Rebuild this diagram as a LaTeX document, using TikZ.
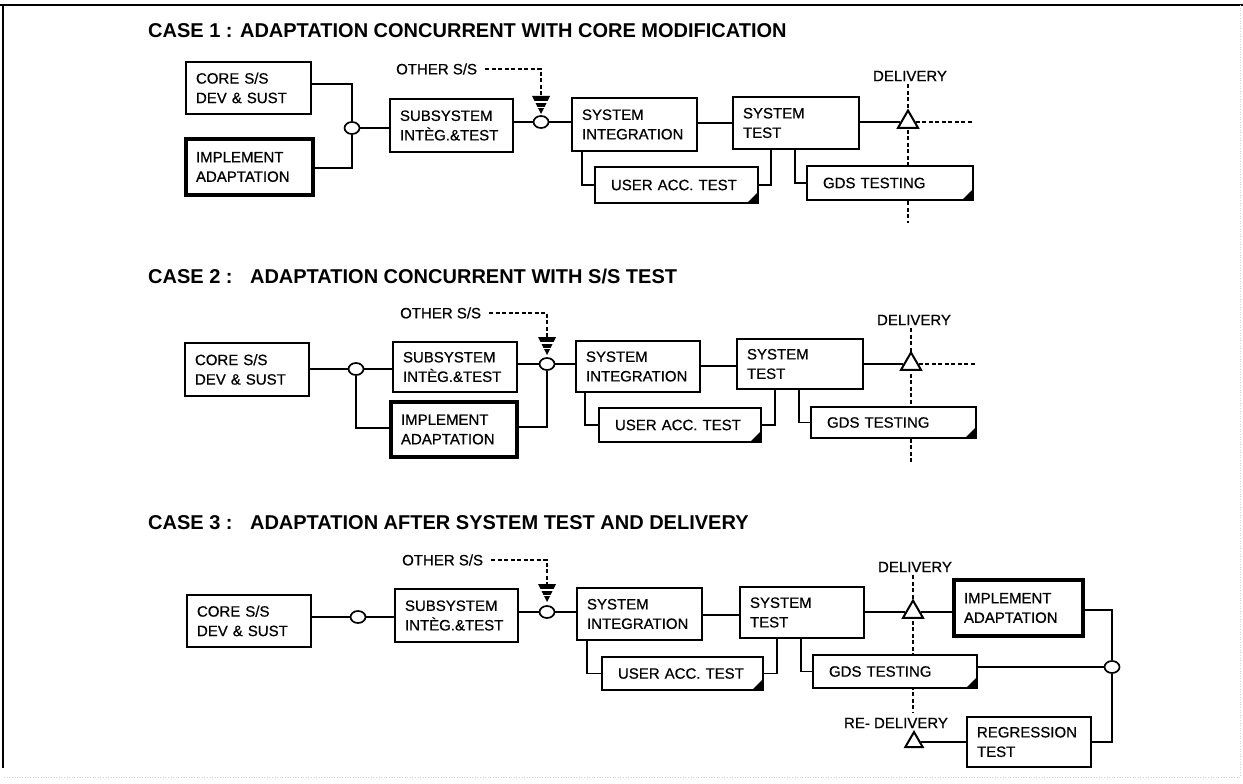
\documentclass[tikz,border=0pt]{standalone}
\usepackage{fontspec}
\setmainfont{Liberation Sans}
\newfontfamily\boxfam[FakeBold=0.6]{Liberation Sans}
\usetikzlibrary{shapes.geometric,calc}
\pgfdeclarelayer{bg}
\pgfsetlayers{bg,main}
\newcommand\bxfont{\boxfam\fontsize{15}{19.5}\selectfont}
\newcommand\lblfont{\boxfam\fontsize{15}{18}\selectfont}
\newcommand\ttlfont{\fontsize{20}{24}\selectfont\bfseries}
\newcommand\bx[7][]{\pgfmathsetlengthmacro\bxw{#5pt-20pt}\node[box,text width=\bxw,minimum height=#6pt,#1] (#2) at (#3,#4) {#7};}
\newcommand\bxs[7][]{\pgfmathsetlengthmacro\bxw{#5pt-32pt}\node[box,inner xsep=16pt,text width=\bxw,minimum height=#6pt,#1] (#2) at (#3,#4) {#7};}
\newcommand\corner[1]{\fill (#1.south east) -- ++(-11,0) -- ++(11,-11) -- cycle;}
\begin{document}
\begin{tikzpicture}[x=1pt,y=-1pt,
  box/.style={draw,line width=1.5pt,fill=white,anchor=north west,align=left,inner xsep=10pt,inner ysep=0pt,outer sep=0pt,font=\bxfont},
  thickbox/.style={line width=4pt},
  junc/.style={ellipse,draw,line width=1.7pt,fill=white,minimum width=15pt,minimum height=12pt,inner sep=0pt},
  deliv/.style={regular polygon,regular polygon sides=3,draw,line width=2pt,fill=white,minimum size=23pt,inner sep=0pt},
  conn/.style={line width=1.4pt},
  dsh/.style={line width=1.6pt,dash pattern=on 4pt off 2.5pt},
  lbl/.style={inner sep=0pt,font=\lblfont},
  ttl/.style={anchor=west,inner sep=0pt,font=\ttlfont},
  chev/.pic={\fill (-9,0) -- (9,0) -- (0,18) -- cycle;
    \draw[white,line width=1.4pt] (-10,6) -- (10,6) (-10,11.5) -- (10,11.5);}
]
\useasboundingbox (0,0) rectangle (1243,784);
\begin{pgfonlayer}{bg}
\fill[white] (0,0) rectangle (1243,784);
\end{pgfonlayer}
% frame
\draw[line width=2.5pt] (0,5) -- (1243,5);
\draw[line width=1.5pt] (3,5) -- (3,768);
\draw[gray!35,line width=0.6pt,dotted] (1240,5) -- (1240,777) -- (3,777);

% ================= CASE 1
\node[ttl] (t1) at (148,31) {CASE 1 : ADAPTATION CONCURRENT WITH CORE MODIFICATION};
\bx{core1}{186}{62}{125}{52}{CORE S/S\\DEV \& SUST}
\bx[thickbox]{impl1}{186}{139}{127}{56}{IMPLEMENT\\ADAPTATION}
\node[junc] (j1a) at (352,128) {};
\bx{sub1}{390}{99}{123}{53}{SUBSYSTEM\\INTÈG.\&TEST}
\node[lbl,anchor=west] (o1) at (396,69) {OTHER S/S};
\coordinate (a1) at (541,96);
\node[junc] (j1b) at (541,122) {};
\bx{si1}{572}{98}{125}{53}{SYSTEM\\INTEGRATION}
\bx{st1}{733}{97}{126}{52}{SYSTEM\\TEST}
\node[deliv] (d1) at (908,122) {};
\node[lbl] (dl1) at (910,76) {DELIVERY};
\coordinate (d1r) at (973,122);
\coordinate (d1b) at (908,223);
\bxs{u1}{595}{167}{163}{36}{USER ACC. TEST}
\bxs{g1}{807}{166}{166}{34}{GDS TESTING}
\corner{u1}\corner{g1}
\draw[conn] (core1.east |- 0,84) -| (j1a);
\draw[conn] (impl1.east |- 0,168) -| (j1a);
\draw[conn] (j1a) -- (sub1.west |- j1a);
\draw[conn] (sub1.east |- j1b) -- (j1b);
\draw[conn] (j1b) -- (si1.west |- j1b);
\draw[conn] (si1.east |- 0,123) -- (st1.west |- 0,123);
\draw[conn] (st1.east |- d1) -- (d1);
\draw[dsh] (d1) -- (d1r);
\draw[conn] (si1.south -| 582,0) |- (u1.west);
\draw[conn] (u1.east) -| (st1.south -| 771,0);
\draw[conn] (st1.south -| 795,0) |- (g1.west);
\draw[dsh] ($(o1.east)+(8,0)$) -| (a1);
\pic at (a1) {chev};
\begin{pgfonlayer}{bg}
\draw[dsh] ($(dl1.south -| d1)+(0,3)$) -- (d1b);
\end{pgfonlayer}

% ================= CASE 2
\node[ttl] (t2) at (148,276) {CASE 2 :\hspace{0.5em} ADAPTATION CONCURRENT WITH S/S TEST};
\bx{core2}{185}{343}{124}{53}{CORE S/S\\DEV \& SUST}
\node[junc] (j2a) at (356,369) {};
\bx{sub2}{393}{342}{124}{50}{SUBSYSTEM\\INTÈG.\&TEST}
\bx[thickbox]{impl2}{391}{402}{126}{55}{IMPLEMENT\\ADAPTATION}
\node[lbl,anchor=west] (o2) at (400,313) {OTHER S/S};
\coordinate (a2) at (547,337);
\node[junc] (j2b) at (547,364) {};
\bx{si2}{576}{341}{124}{51}{SYSTEM\\INTEGRATION}
\bx{st2}{737}{339}{126}{50}{SYSTEM\\TEST}
\node[deliv] (d2) at (911,364) {};
\node[lbl] (dl2) at (914,320) {DELIVERY};
\coordinate (d2r) at (975,364);
\coordinate (d2b) at (911,463);
\bxs{u2}{599}{408}{162}{34}{USER ACC. TEST}
\bxs{g2}{811}{407}{165}{31}{GDS TESTING}
\corner{u2}\corner{g2}
\draw[conn] (core2.east |- j2a) -- (j2a);
\draw[conn] (j2a) -- (sub2.west |- j2a);
\draw[conn] (j2a) |- (impl2.west |- 0,428);
\draw[conn] (sub2.east |- j2b) -- (j2b);
\draw[conn] (impl2.east |- 0,427) -| (j2b);
\draw[conn] (j2b) -- (si2.west |- j2b);
\draw[conn] (si2.east |- 0,366) -- (st2.west |- 0,366);
\draw[conn] (st2.east |- d2) -- (d2);
\draw[dsh] (d2) -- (d2r);
\draw[conn] (si2.south -| 585,0) |- (u2.west);
\draw[conn] (u2.east) -| (st2.south -| 775,0);
\draw[conn] (st2.south -| 799,0) |- (g2.west);
\draw[dsh] ($(o2.east)+(8,0)$) -| (a2);
\pic at (a2) {chev};
\begin{pgfonlayer}{bg}
\draw[dsh] ($(dl2.south -| d2)+(0,3)$) -- (d2b);
\end{pgfonlayer}

% ================= CASE 3
\node[ttl] (t3) at (148,523) {CASE 3 :\hspace{0.5em} ADAPTATION AFTER SYSTEM TEST AND DELIVERY};
\bx{core3}{187}{595}{124}{52}{CORE S/S\\DEV \& SUST}
\node[junc] (j3a) at (358,617) {};
\bx{sub3}{395}{589}{123}{53}{SUBSYSTEM\\INTÈG.\&TEST}
\node[lbl,anchor=west] (o3) at (402,560) {OTHER S/S};
\coordinate (a3) at (547,584);
\node[junc] (j3b) at (547,612) {};
\bx{si3}{577}{588}{125}{52}{SYSTEM\\INTEGRATION}
\bx{st3}{740}{587}{124}{51}{SYSTEM\\TEST}
\node[deliv] (d3) at (913,612) {};
\node[lbl] (dl3) at (915,567) {DELIVERY};
\bx[thickbox]{impl3}{954}{580}{129}{56}{IMPLEMENT\\ADAPTATION}
\bxs{u3}{602}{657}{161}{33}{USER ACC. TEST}
\bxs{g3}{813}{655}{164}{33}{GDS TESTING}
\corner{u3}\corner{g3}
\node[junc] (j3c) at (1112,667) {};
\bx{regr}{967}{717}{124}{50}{REGRESSION\\TEST}
\node[deliv,minimum size=20pt] (rd) at (914,742) {};
\node[lbl] (rdl) at (896,723) {RE- DELIVERY};
\coordinate (d3b) at (913,713);
\draw[conn] (core3.east |- j3a) -- (j3a);
\draw[conn] (j3a) -- (sub3.west |- j3a);
\draw[conn] (sub3.east |- j3b) -- (j3b);
\draw[conn] (j3b) -- (si3.west |- j3b);
\draw[conn] (si3.east |- 0,615) -- (st3.west |- 0,615);
\draw[conn] (st3.east |- d3) -- (d3);
\draw[conn] (d3) -- (impl3.west |- d3);
\draw[conn] (si3.south -| 587,0) |- (u3.west);
\draw[conn] (u3.east) -| (st3.south -| 777,0);
\draw[conn] (st3.south -| 801,0) |- (g3.west);
\draw[conn] (impl3.east |- 0,610) -| (j3c);
\draw[conn] (g3.east |- j3c) -- (j3c);
\draw[conn] (j3c) |- (regr.east);
\draw[conn] (regr.west) -- (rd);
\draw[dsh] ($(o3.east)+(8,0)$) -| (a3);
\pic at (a3) {chev};
\begin{pgfonlayer}{bg}
\draw[dsh] ($(dl3.south -| d3)+(0,3)$) -- (d3b);
\end{pgfonlayer}
\end{tikzpicture}
\end{document}
